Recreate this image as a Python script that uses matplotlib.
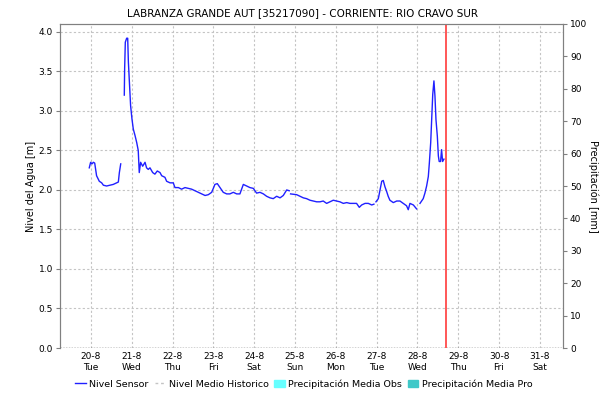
import datetime as dt

import numpy as np
import matplotlib
matplotlib.use("Agg")
import matplotlib.pyplot as plt
import matplotlib.dates as mdates
from matplotlib.lines import Line2D
from matplotlib.patches import Patch

plt.rcParams['font.family'] = ['DejaVu Sans']

# sensor readings: hours since 2019-08-20 00:00 and water level [m]; nan = gap
hours = [-1.0, -0.2, 0.6, 1.4, 2.2, 3.3, 4.9, 6.3, 7.3, 9.2, 11.2, 13.1, 15.1, 16.1, 16.7, 17.5,
         18.5,
         19.6, 19.8, 20.2, 21.0, 21.6, 22.0, 22.6, 23.3, 24.1, 24.9, 25.9, 26.9, 27.8, 28.4,
         29.2, 30.4, 31.8, 32.7, 33.7, 34.7, 36.3, 37.6, 39.0, 40.6, 41.6, 43.5, 44.5, 46.5,
         48.4, 49.4, 51.4, 53.3, 55.3, 57.2, 59.2, 61.2, 63.1, 65.1, 67.1, 69.0, 71.0, 72.9,
         74.3, 75.9, 77.8, 79.8, 81.7, 83.7, 85.7, 87.6, 89.6, 91.6, 93.5, 95.5, 97.4, 99.4,
         101.4, 103.3, 105.3, 107.2, 109.2, 111.2, 113.1, 115.1, 116.6,
         117.0,
         117.4, 121.0, 122.9, 124.9, 126.8, 128.8, 130.7, 132.7, 134.7, 136.6, 138.6, 140.5,
         142.5, 144.5, 146.4, 148.4, 150.4, 152.3, 154.3, 156.2, 157.8, 159.2, 161.2, 163.1,
         165.1, 166.4,
         167.0,
         167.6, 169.0, 170.0, 171.0, 171.9, 172.9, 173.9, 174.8, 175.8, 177.8, 179.8, 181.7,
         183.7, 185.6, 186.6, 187.6, 189.6, 191.5,
         192.5,
         193.5, 195.4, 196.4, 197.4, 198.4, 199.0, 199.8, 200.4, 201.0, 201.7, 202.3, 202.9,
         203.7, 204.3, 204.8, 205.6, 206.2, 206.8, 207.6]
level = [2.28, 2.35, 2.33, 2.35, 2.34, 2.18, 2.11, 2.09, 2.06, 2.05, 2.06, 2.07, 2.09, 2.10, 2.22, 2.33,
         np.nan,
         3.20, 3.53, 3.87, 3.92, 3.92, 3.62, 3.36, 3.07, 2.90, 2.77, 2.69, 2.60, 2.50, 2.22,
         2.35, 2.30, 2.35, 2.28, 2.26, 2.28, 2.22, 2.20, 2.24, 2.22, 2.18, 2.16, 2.11, 2.09,
         2.09, 2.03, 2.03, 2.01, 2.03, 2.02, 2.01, 1.99, 1.97, 1.95, 1.93, 1.94, 1.97, 2.07,
         2.08, 2.03, 1.97, 1.95, 1.95, 1.97, 1.95, 1.95, 2.07, 2.05, 2.03, 2.02, 1.96, 1.97,
         1.95, 1.92, 1.90, 1.89, 1.92, 1.90, 1.93, 2.00, 1.99,
         np.nan,
         1.95, 1.94, 1.92, 1.90, 1.89, 1.87, 1.86, 1.85, 1.85, 1.86, 1.83, 1.85,
         1.87, 1.86, 1.85, 1.83, 1.84, 1.83, 1.83, 1.83, 1.78, 1.81, 1.83, 1.83,
         1.81, 1.82,
         np.nan,
         1.85, 1.89, 2.00, 2.11, 2.12, 2.04, 1.98, 1.92, 1.87, 1.84, 1.86, 1.86,
         1.83, 1.80, 1.75, 1.83, 1.81, 1.76,
         np.nan,
         1.83, 1.89, 1.96, 2.05, 2.17, 2.34, 2.60, 2.90, 3.21, 3.38, 3.19, 2.89,
         2.68, 2.43, 2.36, 2.36, 2.51, 2.36, 2.39]

start = dt.datetime(2019, 8, 20)
now_hours = 208.8
x_min_hours, x_max_hours = -18.2, 277.6

times = [start + dt.timedelta(hours=h) for h in hours]

fig = plt.figure(figsize=(6.02, 4.04), dpi=100)
ax = fig.add_axes([0.0997, 0.1386, 0.8355, 0.802])
ax2 = ax.twinx()

ax.plot(times, level, color='#2020ff', lw=1.0, zorder=3)
ax.axvline(start + dt.timedelta(hours=now_hours), color='#ff3b3b', lw=1.2, zorder=4)
ax.axhline(0, color='#333333', lw=1.0, ls=(0, (1, 1)), zorder=2)

ax.set_xlim(start + dt.timedelta(hours=x_min_hours), start + dt.timedelta(hours=x_max_hours))
ax.set_ylim(0, 4.1)
ax.set_yticks(np.arange(0, 4.01, 0.5))
ax.yaxis.set_major_formatter(matplotlib.ticker.FormatStrFormatter('%.1f'))
ax2.set_ylim(0, 100)
ax2.set_yticks(np.arange(0, 101, 10))

ax.xaxis.set_major_locator(mdates.DayLocator())
ax.xaxis.set_major_formatter(mdates.DateFormatter('%-d-%-m\n%a'))

ax.grid(True, color='#c4c4c4', ls=(0, (2, 2)), lw=0.8)
for a in (ax, ax2):
    for s in a.spines.values():
        s.set_color('#808080')
    a.spines['bottom'].set_visible(False)
ax.tick_params(axis='x', length=0, labelsize=6.5, pad=3)
ax.tick_params(axis='y', length=3, color='#808080', labelsize=6.5, pad=2)
ax2.tick_params(axis='y', length=3, color='#808080', labelsize=6.5, pad=2)

ax.set_ylabel('Nivel del Agua [m]', fontsize=7, labelpad=2)
ax2.set_ylabel('Precipitación [mm]', fontsize=7, rotation=270, labelpad=8)
fig.text(0.502, 0.968, 'LABRANZA GRANDE AUT [35217090] - CORRIENTE: RIO CRAVO SUR',
         fontsize=7.5, ha='center', va='center')

handles = [Line2D([], [], color='#2020ff', lw=1.0),
           Line2D([], [], color='#c4c4c4', lw=1.0, ls=(0, (2, 2))),
           Patch(color='#66ffff'),
           Patch(color='#40c8c8')]
labels = ['Nivel Sensor', 'Nivel Medio Historico', 'Precipitación Media Obs', 'Precipitación Media Pro']
fig.legend(handles, labels, loc='center', bbox_to_anchor=(0.505, 0.05), ncol=4, frameon=False,
           fontsize=6.8, handlelength=1.1, handletextpad=0.4, columnspacing=0.6)

fig.savefig('out.png', dpi=100)
